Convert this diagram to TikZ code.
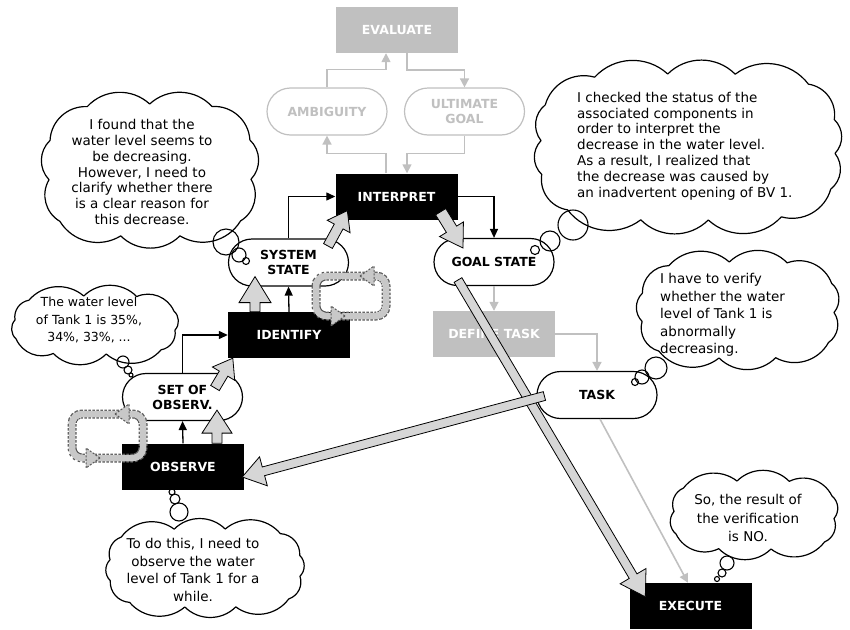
\documentclass[tikz,border=0pt]{standalone}
\usepackage{fontspec}
\setmainfont{DejaVu Sans}
\usetikzlibrary{shapes.misc,arrows.meta,calc}
\definecolor{lgray}{HTML}{C0C0C0}
\definecolor{afill}{HTML}{D6D6D6}
\definecolor{lfill}{HTML}{C8C8C8}
\definecolor{ldash}{HTML}{5A5A5A}
\newcommand\blockarrow[5]{%
  \coordinate (bA) at #1;
  \coordinate (bB) at #2;
  \coordinate (bH) at ($(bB)!#5!(bA)$);
  \filldraw[barrowstyle] ($(bA)!#3!90:(bB)$) -- ($(bH)!#3!-90:(bA)$) -- ($(bH)!#4!-90:(bA)$) -- (bB) -- ($(bH)!#4!90:(bA)$) -- ($(bH)!#3!90:(bA)$) -- ($(bA)!#3!-90:(bB)$) -- cycle;
}
% #1 name, #2 cx, #3 cy, #4 a, #5 b, #6 number of puffs, #7 start angle
\newcommand\thoughtcloud[7]{%
  \foreach \i in {0,...,#6} {
    \pgfmathsetmacro\cldang{360*\i/#6+#7}
    \pgfmathsetmacro\cldc{cos(\cldang)}
    \pgfmathsetmacro\clds{sin(\cldang)}
    \pgfmathsetmacro\cldr{((\cldc*\cldc)^2+(\clds*\clds)^2)^(-0.25)}
    \coordinate (#1-\i) at ({#2+#4*\cldr*\cldc},{#3+#5*\cldr*\clds});
  }
  \draw[cloudline] (#1-0) \foreach \i in {1,...,#6} { to[bend left=45] (#1-\i) } -- cycle;
}
\begin{document}
\begin{tikzpicture}[x=1pt,y=-1pt,
  lbl/.style={font=\fontsize{12.5}{15}\selectfont\bfseries, align=center, inner sep=0pt},
  blackbox/.style={lbl, fill=black, text=white, minimum width=122pt, minimum height=46pt},
  graybox/.style={lbl, fill=lgray, text=white, minimum width=122pt, minimum height=46pt},
  pill/.style={lbl, rounded rectangle, draw=black, line width=1.2pt, fill=white, minimum width=120pt, minimum height=47pt},
  graypill/.style={pill, draw=lgray, text=lgray},
  cloudline/.style={draw=black, line width=1.2pt, fill=white, line join=round},
  ctext/.style={font=\fontsize{13.5}{15.8}\selectfont, align=center, inner sep=0pt},
  bubble/.style={draw=black, line width=1.1pt},
  garrow/.style={draw=lgray, line width=1.6pt, -{Triangle[length=9pt,width=9pt]}},
  karrow/.style={draw=black, line width=1.3pt, -{Triangle[length=9pt,width=8pt]}},
  barrowstyle/.style={fill=afill, draw=black, line width=0.8pt, line join=miter},
  loopband/.style={line width=9pt, draw=ldash, dash pattern=on 2.5pt off 1.5pt, rounded corners=10pt},
  loopfill/.style={line width=6.5pt, draw=lfill, rounded corners=10pt},
  loophead/.style={fill=lfill, draw=ldash, dash pattern=on 2pt off 1.5pt, line width=1pt},
]
\useasboundingbox (0,0) rectangle (850,629);

% clouds
\thoughtcloud{cA}{150}{170}{101}{66}{11}{8}
\thoughtcloud{cB}{688}{147}{147}{73}{14}{5}
\thoughtcloud{cC}{95}{325}{80}{29}{10}{10}
\thoughtcloud{cD}{738}{310}{96}{48}{11}{3}
\thoughtcloud{cE}{205}{568}{95}{39}{12}{12}
\thoughtcloud{cF}{754}{515}{80}{34}{10}{6}

\node[ctext] (tA) at (142,172) {I found that the\\water level seems to\\be decreasing.\\However, I need to\\clarify whether there\\is a clear reason for\\this decrease.};
\node[ctext, align=left, anchor=west] (tB) at (577,146) {I checked the status of the\\associated components in\\order to interpret the\\decrease in the water level.\\As a result, I realized that\\the decrease was caused by\\an inadvertent opening of BV 1.};
\node[ctext, font=\fontsize{12.5}{17.5}\selectfont] (tC) at (89,320) {The water level\\of Tank 1 is 35\%,\\34\%, 33\%, ...};
\node[ctext, align=left, anchor=west, font=\fontsize{13.5}{17.5}\selectfont] (tD) at (660,315) {I have to verify\\whether the water\\level of Tank 1 is\\abnormally\\decreasing.};
\node[ctext, font=\fontsize{13.5}{17.7}\selectfont] (tE) at (193,570) {To do this, I need to\\observe the water\\level of Tank 1 for a\\while.};
\node[ctext, font=\fontsize{13.5}{18.5}\selectfont] (tF) at (748,518) {So, the result of\\the verification\\is NO.};

% main nodes
\node[graybox] (evaluate) at (397,30) {EVALUATE};
\node[graypill] (ambiguity) at (327,111.5) {AMBIGUITY};
\node[graypill] (ultimate) at (464.5,111.5) {ULTIMATE\\GOAL};
\node[blackbox] (interpret) at (396.5,196.5) {INTERPRET};
\node[pill] (sysstate) at (288.5,262.5) {SYSTEM\\STATE};
\node[pill] (goalstate) at (494,262) {GOAL STATE};
\node[blackbox] (identify) at (289,335) {IDENTIFY};
\node[graybox] (definetask) at (494,334) {DEFINE TASK};
\node[pill] (setobs) at (182.5,397) {SET OF\\OBSERV.};
\node[pill] (task) at (597,395) {TASK};
\node[blackbox] (observe) at (183,466.5) {OBSERVE};
\node[blackbox] (execute) at (690.5,606) {EXECUTE};

% gray thin connectors
\draw[garrow] (ambiguity.north) -- ++(0,-18) -| ([xshift=-11pt]evaluate.south);
\draw[garrow] ([xshift=10pt]evaluate.south) -- ++(0,17) -| (ultimate.north);
\draw[garrow] ([xshift=-10.5pt]interpret.north) -- ++(0,-20) -| (ambiguity.south);
\draw[garrow] (ultimate.south) -- ++(0,18) -| ([xshift=10.5pt]interpret.north);
\draw[garrow] (goalstate.south) -- (definetask.north);
\draw[garrow] (definetask.east) -| (task.north);
\draw[garrow] ([xshift=3pt]task.south) -- ([xshift=-2.5pt]execute.north);

% black thin connectors
\draw[karrow] (sysstate.north) |- (interpret.west);
\draw[karrow] (interpret.east) -| (goalstate.north);
\draw[karrow] (identify.north) -- (sysstate.south);
\draw[karrow] (setobs.north) |- (identify.west);
\draw[karrow] (observe.north) -- (setobs.south);

% block arrows
\blockarrow{($(setobs.center)+(32.5,-9)$)}{($(identify.south west)+(5,0)$)}{5pt}{13pt}{18pt}
\blockarrow{($(observe.north)+(34,0)$)}{($(setobs.south)+(34.5,-11)$)}{5pt}{15pt}{23pt}
\blockarrow{($(identify.north)+(-34,0)$)}{($(sysstate.south)+(-33.5,-10)$)}{5pt}{16pt}{26pt}
\blockarrow{($(sysstate.center)+(39.5,-16.5)$)}{($(interpret.south west)+(12,-9)$)}{5pt}{13pt}{18pt}
\blockarrow{($(interpret.south east)+(-17,-8)$)}{($(goalstate.center)+(-31,-14)$)}{6pt}{14pt}{22pt}
\blockarrow{($(goalstate.center)+(-36,18)$)}{($(execute.north west)+(16,14)$)}{4.5pt}{15pt}{24pt}
\blockarrow{($(task.west)+(8,1)$)}{($(observe.east)+(-2,10.5)$)}{4.5pt}{15pt}{22pt}

% dashed loops
\draw[loopband] (316,276) rectangle (386,316);
\draw[loopfill] (316,276) rectangle (386,316);
\filldraw[loophead] (360,276) -- (374,266) -- (374,286) -- cycle;
\filldraw[loophead] (345,316) -- (331,306) -- (331,326) -- cycle;

\draw[loopband] (72,414) rectangle (143,458);
\draw[loopfill] (72,414) rectangle (143,458);
\filldraw[loophead] (115,414) -- (129,404) -- (129,424) -- cycle;
\filldraw[loophead] (100,458) -- (86,448) -- (86,468) -- cycle;

% thought bubbles
\draw[bubble] (226,242) circle (13pt);
\draw[bubble] (239,255) circle (7pt);
\draw[bubble] (246,261) circle (3.5pt);

\draw[bubble] (573,225) circle (15pt);
\draw[bubble] (550,241) circle (10pt);
\draw[bubble] (535,250) circle (4.5pt);

\draw[bubble] (123,362) circle (6pt);
\draw[bubble] (128,370) circle (4pt);
\draw[bubble] (131,375) circle (2pt);

\draw[bubble] (656,368) circle (11pt);
\draw[bubble] (642,377) circle (7pt);
\draw[bubble] (635,382) circle (3.5pt);

\draw[bubble] (179,512) circle (9pt);
\draw[bubble] (175,499) circle (5pt);
\draw[bubble] (172,492) circle (3pt);

\draw[bubble] (727,563) circle (7pt);
\draw[bubble] (722,573) circle (4pt);
\draw[bubble] (717,579) circle (2.5pt);
\end{tikzpicture}
\end{document}
